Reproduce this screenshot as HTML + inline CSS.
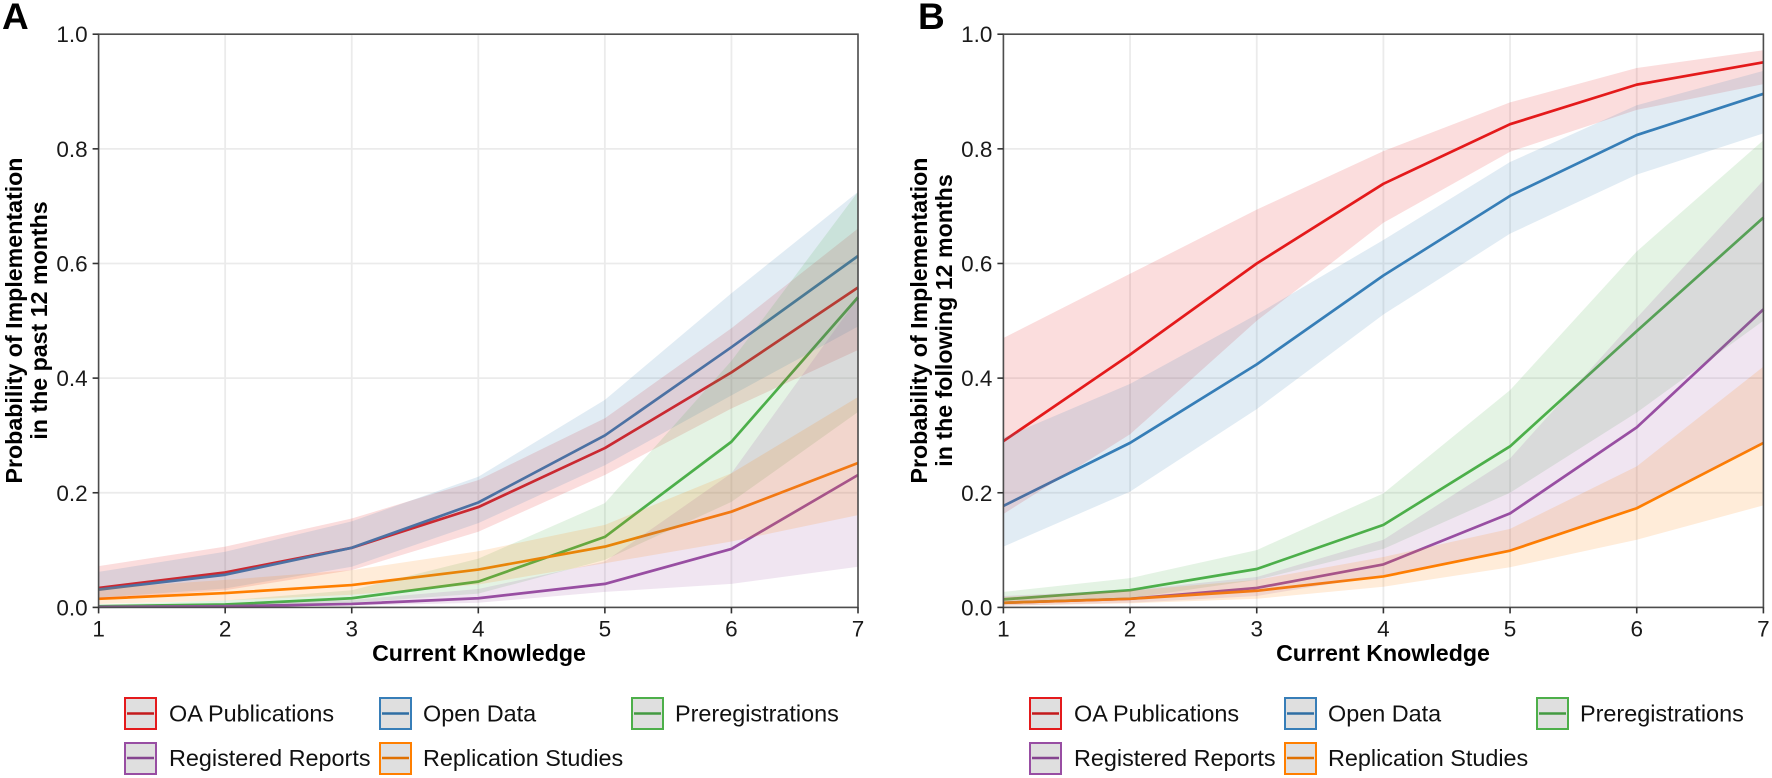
<!DOCTYPE html>
<html lang="en">
<head>
<meta charset="utf-8">
<title>Probability of Implementation by Current Knowledge</title>
<style>
html,body{margin:0;padding:0;background:#fff;width:1772px;height:778px;overflow:hidden}
svg{display:block;font-family:"Liberation Sans",Arial,sans-serif}
.tick{font-size:22.5px;fill:#1a1a1a}
.title{font-size:23.2px;font-weight:bold;fill:#000}
.legend-label{font-size:23.4px;fill:#111}
.panel-tag{font-size:37px;font-weight:bold;fill:#000}
</style>
</head>
<body>
<svg id="chart" width="1772" height="778" viewBox="0 0 1772 778" xmlns="http://www.w3.org/2000/svg">
  <g id="panel-a"></g>
  <g id="panel-b"></g>

  <text class="panel-tag" x="2" y="29">A</text>
  <text class="panel-tag" x="918" y="29">B</text>

  <text class="title" x="479" y="661" text-anchor="middle">Current Knowledge</text>
  <text class="title" x="1383" y="661" text-anchor="middle">Current Knowledge</text>

  <g transform="translate(22,320.5) rotate(-90)">
    <text class="title" text-anchor="middle" x="0" y="0">Probability of Implementation</text>
    <text class="title" text-anchor="middle" x="0" y="25">in the past 12 months</text>
  </g>
  <g transform="translate(927,320.5) rotate(-90)">
    <text class="title" text-anchor="middle" x="0" y="0">Probability of Implementation</text>
    <text class="title" text-anchor="middle" x="0" y="25">in the following 12 months</text>
  </g>

  <g>
    <g>
      <rect x="125" y="698" width="31" height="31" fill="#dfdfdf" stroke="#e41a1c" stroke-width="2"/>
      <line x1="127" x2="154" y1="713.5" y2="713.5" stroke="#c41a1c" stroke-width="2.6"/>
      <text class="legend-label" x="169" y="721.5">OA Publications</text>
    </g>
    <g>
      <rect x="380" y="698" width="31" height="31" fill="#dfdfdf" stroke="#377eb8" stroke-width="2"/>
      <line x1="382" x2="409" y1="713.5" y2="713.5" stroke="#2f6ea4" stroke-width="2.6"/>
      <text class="legend-label" x="423" y="721.5">Open Data</text>
    </g>
    <g>
      <rect x="632" y="698" width="31" height="31" fill="#dfdfdf" stroke="#4daf4a" stroke-width="2"/>
      <line x1="634" x2="661" y1="713.5" y2="713.5" stroke="#439a41" stroke-width="2.6"/>
      <text class="legend-label" x="675" y="721.5">Preregistrations</text>
    </g>
    <g>
      <rect x="125" y="743" width="31" height="31" fill="#dfdfdf" stroke="#984ea3" stroke-width="2"/>
      <line x1="127" x2="154" y1="758" y2="758" stroke="#85448f" stroke-width="2.6"/>
      <text class="legend-label" x="169" y="766">Registered Reports</text>
    </g>
    <g>
      <rect x="380" y="743" width="31" height="31" fill="#dfdfdf" stroke="#ff7f00" stroke-width="2"/>
      <line x1="382" x2="409" y1="758" y2="758" stroke="#e07000" stroke-width="2.6"/>
      <text class="legend-label" x="423" y="766">Replication Studies</text>
    </g>
  </g>

  <g>
    <g>
      <rect x="1030" y="698" width="31" height="31" fill="#dfdfdf" stroke="#e41a1c" stroke-width="2"/>
      <line x1="1032" x2="1059" y1="713.5" y2="713.5" stroke="#c41a1c" stroke-width="2.6"/>
      <text class="legend-label" x="1074" y="721.5">OA Publications</text>
    </g>
    <g>
      <rect x="1285" y="698" width="31" height="31" fill="#dfdfdf" stroke="#377eb8" stroke-width="2"/>
      <line x1="1287" x2="1314" y1="713.5" y2="713.5" stroke="#2f6ea4" stroke-width="2.6"/>
      <text class="legend-label" x="1328" y="721.5">Open Data</text>
    </g>
    <g>
      <rect x="1537" y="698" width="31" height="31" fill="#dfdfdf" stroke="#4daf4a" stroke-width="2"/>
      <line x1="1539" x2="1566" y1="713.5" y2="713.5" stroke="#439a41" stroke-width="2.6"/>
      <text class="legend-label" x="1580" y="721.5">Preregistrations</text>
    </g>
    <g>
      <rect x="1030" y="743" width="31" height="31" fill="#dfdfdf" stroke="#984ea3" stroke-width="2"/>
      <line x1="1032" x2="1059" y1="758" y2="758" stroke="#85448f" stroke-width="2.6"/>
      <text class="legend-label" x="1074" y="766">Registered Reports</text>
    </g>
    <g>
      <rect x="1285" y="743" width="31" height="31" fill="#dfdfdf" stroke="#ff7f00" stroke-width="2"/>
      <line x1="1287" x2="1314" y1="758" y2="758" stroke="#e07000" stroke-width="2.6"/>
      <text class="legend-label" x="1328" y="766">Replication Studies</text>
    </g>
  </g>
</svg>

<script>
// Shared axis data
var knowledgeLevels = [1, 2, 3, 4, 5, 6, 7];
var yTickValues = [0, 0.2, 0.4, 0.6, 0.8, 1];
var yTickLabels = ["0.0", "0.2", "0.4", "0.6", "0.8", "1.0"];

// Panel A: past 12 months
var aOaMean = [0.034, 0.061, 0.104, 0.175, 0.278, 0.41, 0.558];
var aOaUpper = [0.072, 0.106, 0.155, 0.222, 0.33, 0.487, 0.661];
var aOaLower = [0.014, 0.03, 0.065, 0.132, 0.231, 0.347, 0.449];
var aDataMean = [0.031, 0.057, 0.104, 0.183, 0.3, 0.454, 0.613];
var aDataUpper = [0.062, 0.097, 0.15, 0.228, 0.362, 0.548, 0.725];
var aDataLower = [0.017, 0.033, 0.071, 0.147, 0.248, 0.37, 0.49];
var aPreMean = [0.002, 0.005, 0.016, 0.045, 0.123, 0.289, 0.541];
var aPreUpper = [0.005, 0.012, 0.03, 0.085, 0.182, 0.43, 0.725];
var aPreLower = [0.001, 0.002, 0.008, 0.024, 0.083, 0.184, 0.341];
var aRegMean = [0.001, 0.002, 0.006, 0.016, 0.041, 0.102, 0.231];
var aRegUpper = [0.002, 0.005, 0.013, 0.032, 0.08, 0.234, 0.54];
var aRegLower = [0, 0.001, 0.003, 0.008, 0.027, 0.041, 0.071];
var aRepMean = [0.015, 0.025, 0.039, 0.066, 0.106, 0.167, 0.252];
var aRepUpper = [0.033, 0.048, 0.065, 0.098, 0.144, 0.234, 0.367];
var aRepLower = [0.006, 0.012, 0.022, 0.04, 0.077, 0.115, 0.161];

// Panel B: following 12 months
var bOaMean = [0.29, 0.441, 0.6, 0.739, 0.843, 0.912, 0.951];
var bOaUpper = [0.47, 0.582, 0.694, 0.796, 0.881, 0.941, 0.972];
var bOaLower = [0.163, 0.302, 0.5, 0.671, 0.795, 0.868, 0.913];
var bDataMean = [0.177, 0.287, 0.424, 0.579, 0.718, 0.824, 0.896];
var bDataUpper = [0.296, 0.39, 0.511, 0.641, 0.777, 0.876, 0.936];
var bDataLower = [0.106, 0.202, 0.346, 0.511, 0.652, 0.755, 0.827];
var bPreMean = [0.014, 0.03, 0.067, 0.144, 0.281, 0.482, 0.68];
var bPreUpper = [0.027, 0.051, 0.1, 0.199, 0.379, 0.621, 0.815];
var bPreLower = [0.006, 0.016, 0.048, 0.102, 0.2, 0.34, 0.5];
var bRegMean = [0.008, 0.015, 0.034, 0.075, 0.164, 0.314, 0.52];
var bRegUpper = [0.02, 0.03, 0.053, 0.118, 0.26, 0.505, 0.745];
var bRegLower = [0.003, 0.008, 0.02, 0.056, 0.1, 0.175, 0.287];
var bRepMean = [0.008, 0.015, 0.029, 0.054, 0.099, 0.173, 0.287];
var bRepUpper = [0.018, 0.029, 0.048, 0.088, 0.137, 0.246, 0.42];
var bRepLower = [0.003, 0.007, 0.015, 0.036, 0.07, 0.118, 0.178];

var seriesNames = ["oa-publications", "open-data", "preregistrations", "registered-reports", "replication-studies"];
var seriesColors = ["#e41a1c", "#377eb8", "#4daf4a", "#984ea3", "#ff7f00"];

var SVGNS = "http://www.w3.org/2000/svg";
var plotTop = 34.2;
var plotBottom = 607.4;

function make(tag, attrs, parent) {
  var el = document.createElementNS(SVGNS, tag);
  for (var k in attrs) { el.setAttribute(k, attrs[k]); }
  parent.appendChild(el);
  return el;
}

function drawPanel(host, prefix, left, right, means, uppers, lowers) {
  function xScale(v) { return left + (v - 1) / 6 * (right - left); }
  function yScale(v) { return plotBottom - v * (plotBottom - plotTop); }
  var el, i, s;

  // Grid
  var grid = make("g", {stroke: "#ebebeb", "stroke-width": 1.8, fill: "none"}, host);
  
  
  yTickValues.forEach(function (v) {
    var g = make("line", {x1: left, x2: right, y1: yScale(v), y2: yScale(v)}, grid);
    
    
  });
  knowledgeLevels.forEach(function (v) {
    var g = make("line", {x1: xScale(v), x2: xScale(v), y1: plotTop, y2: plotBottom}, grid);
    
    
  });

  // Mean lines (under the ribbons, as in the reference)
  for (i = 0; i < means.length; i++) {
    var pts = means[i].map(function (v, j) { return xScale(knowledgeLevels[j]).toFixed(2) + "," + yScale(v).toFixed(2); }).join(" ");
    el = make("polyline", {points: pts, fill: "none", stroke: seriesColors[i], "stroke-width": 2.7, "stroke-linejoin": "round"}, host);
    
    
  }

  // Confidence ribbons
  for (i = 0; i < means.length; i++) {
    var top = uppers[i].map(function (v, j) { return xScale(knowledgeLevels[j]).toFixed(2) + "," + yScale(v).toFixed(2); });
    var bottom = lowers[i].map(function (v, j) { return xScale(knowledgeLevels[j]).toFixed(2) + "," + yScale(v).toFixed(2); }).reverse();
    el = make("polygon", {points: top.concat(bottom).join(" "), fill: seriesColors[i], "fill-opacity": 0.15, stroke: "none"}, host);
    
    
  }

  // Panel border
  el = make("rect", {x: left, y: plotTop, width: right - left, height: plotBottom - plotTop, fill: "none", stroke: "#4d4d4d", "stroke-width": 1.6}, host);
  
  

  // Y axis ticks and labels
  yTickValues.forEach(function (v, j) {
    var t = make("line", {x1: left - 6, x2: left, y1: yScale(v), y2: yScale(v), stroke: "#333", "stroke-width": 1.6}, host);
    
    
    var l = make("text", {x: left - 11, y: yScale(v) + 8, "text-anchor": "end", "class": "tick"}, host);
    l.textContent = yTickLabels[j];
    
    
  });

  // X axis ticks and labels
  knowledgeLevels.forEach(function (v) {
    var t = make("line", {x1: xScale(v), x2: xScale(v), y1: plotBottom, y2: plotBottom + 6, stroke: "#333", "stroke-width": 1.6}, host);
    
    
    var l = make("text", {x: xScale(v), y: plotBottom + 29, "text-anchor": "middle", "class": "tick"}, host);
    l.textContent = String(v);
    
    
  });
}

drawPanel(document.getElementById("panel-a"), "panel-a", 98.6, 858,
  [aOaMean, aDataMean, aPreMean, aRegMean, aRepMean],
  [aOaUpper, aDataUpper, aPreUpper, aRegUpper, aRepUpper],
  [aOaLower, aDataLower, aPreLower, aRegLower, aRepLower]);

drawPanel(document.getElementById("panel-b"), "panel-b", 1003.4, 1763.4,
  [bOaMean, bDataMean, bPreMean, bRegMean, bRepMean],
  [bOaUpper, bDataUpper, bPreUpper, bRegUpper, bRepUpper],
  [bOaLower, bDataLower, bPreLower, bRegLower, bRepLower]);
</script>
</body>
</html>
